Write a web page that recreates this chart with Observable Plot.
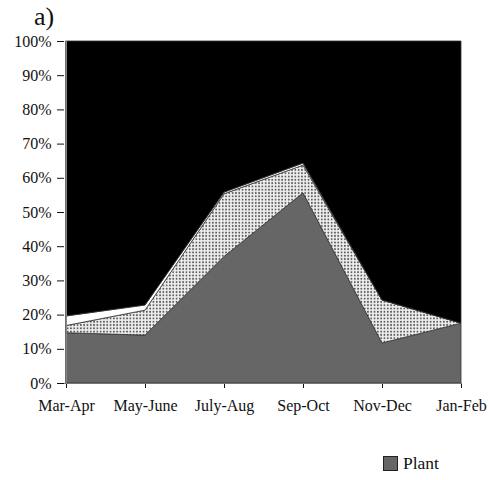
<!DOCTYPE html>
<html>
<head>
<meta charset="utf-8">
<script src="https://cdn.jsdelivr.net/npm/d3@7"></script>
<script src="https://cdn.jsdelivr.net/npm/@observablehq/plot@0.6"></script>
<style>
  html, body { margin: 0; padding: 0; background: white; }
  #wrap { position: relative; width: 489px; height: 480px; overflow: hidden; font-family: "Liberation Serif", "Times New Roman", serif; }
  #title { position: absolute; left: 34px; top: 4px; font-size: 26px; line-height: 1; color: #111; }
  #chart { position: absolute; left: 0; top: 0; }
  #legend { position: absolute; left: 383px; top: 453px; display: flex; align-items: center; font-size: 17.5px; line-height: 1.2; color: #111; }
  #legend .sw { width: 13px; height: 13px; background: #666; border: 1.5px solid #222; margin-right: 5px; }
</style>
</head>
<body>
<div id="wrap">
  <div id="chart"></div>
  <div id="title">a)</div>
  <div id="legend"><span class="sw"></span><span>Plant</span></div>
</div>
<script>
const months = ["Mar-Apr", "May-June", "July-Aug", "Sep-Oct", "Nov-Dec", "Jan-Feb"];
const plant  = [14.7, 14.0, 37.0, 55.6, 11.7, 17.5];
const dotted = [2.1, 7.3, 18.3, 8.1, 12.6, 0.0];
const light  = [2.8, 1.5, 0.5, 0.6, 0.0, 0.0];
const other  = [80.4, 77.2, 44.2, 35.7, 75.7, 82.5];
const layers = ["Plant", "Dotted", "Light", "Other"];
const yTicks = [0, 10, 20, 30, 40, 50, 60, 70, 80, 90, 100];

const series = {Plant: plant, Dotted: dotted, Light: light, Other: other};
const data = [];
for (const layer of layers) {
  months.forEach((m, i) => data.push({month: m, layer, value: series[layer][i]}));
}

const svg = Plot.plot({
  width: 489,
  height: 420,
  marginLeft: 64,
  marginRight: 27,
  marginTop: 41,
  marginBottom: 37,
  style: {fontFamily: "Liberation Serif, Times New Roman, serif", fontSize: "16px", color: "#111", background: "transparent", overflow: "visible"},
  x: {type: "point", domain: months, padding: 0, label: null, tickSize: 5, tickPadding: 11},
  y: {domain: [0, 100], ticks: yTicks, tickFormat: d => d + "%", label: null, tickSize: 7, tickPadding: 6},
  color: {domain: layers, range: ["#666666", "url(#dotpat)", "#ffffff", "#000000"]},
  marks: [
    Plot.areaY(data, {x: "month", y: "value", fill: "layer", order: layers, stroke: "#333", strokeWidth: 0.8}),
    Plot.ruleY([0], {stroke: "#777", strokeWidth: 1}),
    Plot.ruleX([months[0]], {stroke: "#888", strokeWidth: 1})
  ]
});

const defs = d3.select(svg).insert("defs", ":first-child");
const pat = defs.append("pattern")
  .attr("id", "dotpat").attr("patternUnits", "userSpaceOnUse")
  .attr("width", 3.3).attr("height", 3.3);
pat.append("rect").attr("width", 3.3).attr("height", 3.3).attr("fill", "#eeeeee");
pat.append("circle").attr("cx", 1.65).attr("cy", 1.65).attr("r", 0.95).attr("fill", "#555555");

document.getElementById("chart").appendChild(svg);
</script>
</body>
</html>
